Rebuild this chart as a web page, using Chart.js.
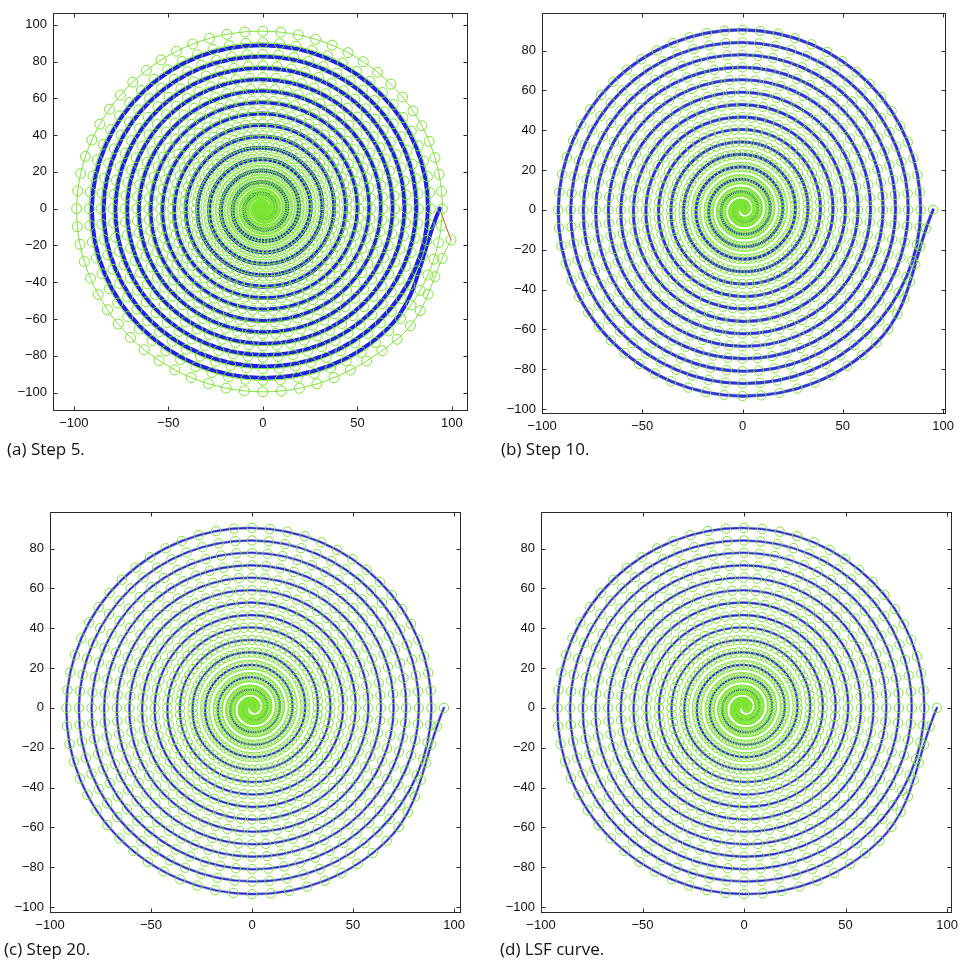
<!DOCTYPE html>
<html>
<head>
<meta charset="utf-8">
<script src="https://cdn.jsdelivr.net/npm/chart.js@4.4.1/dist/chart.umd.min.js"></script>
<style>
  html, body { margin: 0; padding: 0; background: #fff; overflow: hidden; }
  body { width: 960px; height: 966px; position: relative; }
  .panel { position: absolute; }
  .cap { position: absolute; font-family: "Open Sans", sans-serif; font-size: 17px; line-height: 17px; color: #111; white-space: nowrap; }
</style>
</head>
<body>
<div class="panel" id="pa"><canvas id="ca"></canvas></div>
<div class="panel" id="pb"><canvas id="cb"></canvas></div>
<div class="panel" id="pc"><canvas id="cc"></canvas></div>
<div class="panel" id="pd"><canvas id="cd"></canvas></div>
<div class="cap" style="left:7px;top:440px">(a) Step 5.</div>
<div class="cap" style="left:501px;top:440px">(b) Step 10.</div>
<div class="cap" style="left:4px;top:940px">(c) Step 20.</div>
<div class="cap" style="left:500px;top:940px">(d) LSF curve.</div>
<script>
// tick values
const xTickValues = [-100, -50, 0, 50, 100];
const yTicksA = [-100, -80, -60, -40, -20, 0, 20, 40, 60, 80, 100];
const yTicksBCD = [-100, -80, -60, -40, -20, 0, 20, 40, 60, 80];

// Spirals are stored as the crossings of each turn with the axes (E, N, W, S: signed
// coordinate on that axis) and with the diagonals (NE, NW, SW, SE: |x| = |y| there).

// fitted spiral of steps 10, 20 and the final LSF curve
const lsfE  = [1.3, 7.5, 13.8, 20.1, 26.3, 32.6, 38.8, 45.1, 51.3, 57.6, 63.8, 70.1, 76.3, 82.6, 88.8];
const lsfNE = [1.5, 5.9, 10.3, 14.7, 19.1, 23.6, 28.0, 32.4, 36.8, 41.2, 45.7, 50.1, 54.5, 58.9, 63.3];
const lsfN  = [2.9, 9.1, 15.4, 21.6, 27.9, 34.1, 40.4, 46.6, 52.9, 59.1, 65.4, 71.6, 77.9, 84.1, 90.4];
const lsfNW = [2.6, 7.0, 11.4, 15.8, 20.3, 24.7, 29.1, 33.5, 37.9, 42.3, 46.8, 51.2, 55.6, 60.0, 64.4];
const lsfW  = [-4.4, -10.7, -16.9, -23.2, -29.4, -35.7, -41.9, -48.2, -54.4, -60.7, -66.9, -73.2, -79.4, -85.7, -91.9];
const lsfSW = [3.7, 8.1, 12.5, 16.9, 21.4, 25.8, 30.2, 34.6, 39.0, 43.5, 47.9, 52.3, 56.7, 61.1, 65.6];
const lsfS  = [-6.0, -12.2, -18.5, -24.7, -31.0, -37.2, -43.5, -49.7, -56.0, -62.2, -68.5, -74.7, -81.0, -87.2, -93.5];
const lsfSE = [4.8, 9.2, 13.6, 18.0, 22.5, 26.9, 31.3, 35.7, 40.1, 44.6, 49.0, 53.4, 57.8, 62.2, 66.7];
const lsfEnd = [95, 0];

// step 5: curve being fitted
const s5E  = [0.5, 6.7, 12.9, 19.1, 25.3, 31.5, 37.7, 43.9, 50.1, 56.3, 62.5, 68.7, 74.9, 81.1, 87.3];
const s5NE = [0.9, 5.3, 9.7, 14.1, 18.4, 22.8, 27.2, 31.6, 36.0, 40.4, 44.7, 49.1, 53.5, 57.9, 62.3];
const s5N  = [2.1, 8.3, 14.5, 20.7, 26.9, 33.1, 39.3, 45.5, 51.7, 57.9, 64.1, 70.3, 76.5, 82.7, 88.9];
const s5NW = [2.0, 6.4, 10.8, 15.1, 19.5, 23.9, 28.3, 32.7, 37.1, 41.5, 45.8, 50.2, 54.6, 59.0, 63.4];
const s5W  = [-3.6, -9.8, -16.0, -22.2, -28.4, -34.6, -40.8, -47.0, -53.2, -59.4, -65.6, -71.8, -78.0, -84.2, -90.4];
const s5SW = [3.1, 7.5, 11.9, 16.2, 20.6, 25.0, 29.4, 33.8, 38.2, 42.6, 46.9, 51.3, 55.7, 60.1, 64.5];
const s5S  = [-5.2, -11.4, -17.6, -23.8, -30.0, -36.2, -42.4, -48.6, -54.8, -61.0, -67.2, -73.4, -79.6, -85.8, -92.0];
const s5SE = [4.2, 8.6, 13.0, 17.3, 21.7, 26.1, 30.5, 34.9, 39.3, 43.6, 48.0, 52.4, 56.8, 61.2, 65.6];
const s5End = [93.5, 0];

// step 5: sample points (green)
const ptE  = [0.4, 6.7, 13.0, 19.3, 25.6, 31.9, 38.2, 44.5, 50.8, 57.1, 63.4, 69.7, 76.0, 82.3, 88.6, 94.9];
const ptNE = [0.8, 5.3, 9.8, 14.2, 18.7, 23.1, 27.6, 32.0, 36.5, 40.9, 45.4, 49.8, 54.3, 58.8, 63.2, 67.7];
const ptN  = [2.0, 8.3, 14.6, 20.9, 27.2, 33.5, 39.8, 46.1, 52.4, 58.7, 65.0, 71.3, 77.6, 83.9, 90.2, 96.5];
const ptNW = [2.0, 6.4, 10.9, 15.3, 19.8, 24.2, 28.7, 33.1, 37.6, 42.0, 46.5, 51.0, 55.4, 59.9, 64.3, 68.8];
const ptW  = [-3.6, -9.9, -16.2, -22.5, -28.8, -35.1, -41.4, -47.7, -54.0, -60.3, -66.6, -72.9, -79.2, -85.5, -91.8, -98.5];
const ptSW = [3.1, 7.5, 12.0, 16.4, 20.9, 25.3, 29.8, 34.3, 38.7, 43.2, 47.6, 52.1, 56.5, 61.0, 65.4, 70.0];
const ptS  = [-5.1, -11.4, -17.7, -24.0, -30.3, -36.6, -42.9, -49.2, -55.5, -61.8, -68.1, -74.4, -80.7, -87.0, -93.3, -99.6];
const ptSE = [4.2, 8.6, 13.1, 17.5, 22.0, 26.5, 30.9, 35.4, 39.8, 44.3, 48.7, 53.2, 57.6, 62.1, 66.5, 71.0];
const ptEnd = [99.5, -17];

// step 5: link from curve end to last sample
const linkX = [93.5, 96.5, 99.5];
const linkY = [0, -8.5, -17];

const GREEN = 'rgb(125,230,50)';

function spiral(E, NE, N, NW, W, SW, S, SE, end) {
  const pts = [];
  for (let i = 0; i < E.length; i++) {
    pts.push({x: E[i], y: 0}, {x: NE[i], y: NE[i]}, {x: 0, y: N[i]}, {x: -NW[i], y: NW[i]},
             {x: W[i], y: 0}, {x: -SW[i], y: -SW[i]}, {x: 0, y: S[i]}, {x: SE[i], y: -SE[i]});
  }
  pts.push({x: end[0], y: end[1]});
  return pts;
}

// hollow circles spaced along the drawn spline of one dataset
const ringMarkers = {
  id: 'ringMarkers',
  afterDatasetsDraw(chart, args, opts) {
    const pts = chart.getDatasetMeta(opts.dataset).data;
    const ctx = chart.ctx;
    const cx = chart.scales.x.getPixelForValue(0), cy = chart.scales.y.getPixelForValue(0);
    const r = opts.radius;
    ctx.save();
    ctx.strokeStyle = opts.color;
    ctx.lineWidth = opts.width;
    ctx.beginPath();
    const ring = (x, y) => { ctx.moveTo(x + r, y); ctx.arc(x, y, r, 0, Math.PI * 2); };
    for (let i = 0; i < pts.length - 1; i++) {
      const p0 = pts[i], p1 = pts[i + 1];
      let turn = Math.atan2(p1.y - cy, p1.x - cx) - Math.atan2(p0.y - cy, p0.x - cx);
      turn = Math.abs(Math.atan2(Math.sin(turn), Math.cos(turn)));
      const n = Math.max(1, Math.round(opts.perQuarter * turn / (Math.PI / 2)));
      const c0x = p0.cp2x ?? p0.x, c0y = p0.cp2y ?? p0.y;
      const c1x = p1.cp1x ?? p1.x, c1y = p1.cp1y ?? p1.y;
      for (let k = 0; k < n; k++) {
        const t = k / n, u = 1 - t;
        const a = u * u * u, b = 3 * u * u * t, c = 3 * u * t * t, d = t * t * t;
        ring(a * p0.x + b * c0x + c * c1x + d * p1.x, a * p0.y + b * c0y + c * c1y + d * p1.y);
      }
    }
    const last = pts[pts.length - 1];
    ring(last.x, last.y);
    ctx.stroke();
    ctx.restore();
  }
};

// matlab style box with inward ticks on all four sides
const axesBox = {
  id: 'axesBox',
  afterDraw(chart) {
    const {ctx, chartArea: a, scales: {x, y}} = chart;
    const L = Math.round(a.left) + 0.5, R = Math.round(a.right) - 0.5;
    const T = Math.round(a.top) + 0.5, B = Math.round(a.bottom) - 0.5;
    ctx.save();
    ctx.strokeStyle = '#2a2a2a';
    ctx.lineWidth = 1;
    ctx.strokeRect(L, T, R - L, B - T);
    ctx.beginPath();
    x.ticks.forEach(t => {
      const px = Math.round(x.getPixelForValue(t.value)) + 0.5;
      ctx.moveTo(px, B); ctx.lineTo(px, B - 4);
      ctx.moveTo(px, T); ctx.lineTo(px, T + 4);
    });
    y.ticks.forEach(t => {
      const py = Math.round(y.getPixelForValue(t.value)) + 0.5;
      ctx.moveTo(L, py); ctx.lineTo(L + 4, py);
      ctx.moveTo(R, py); ctx.lineTo(R - 4, py);
    });
    ctx.stroke();
    ctx.restore();
  }
};

const fmt = v => (v < 0 ? '\u2212' + Math.abs(v) : String(v));

function axis(min, max, ticks, isX) {
  return {
    type: 'linear',
    min: min,
    max: max,
    afterBuildTicks: s => { s.ticks = ticks.map(v => ({value: v})); },
    afterFit: s => { if (isX) s.height = 30; else s.width = 50; },
    grid: {display: false, drawTicks: false},
    border: {display: false},
    ticks: {
      autoSkip: false, maxRotation: 0, padding: isX ? 5 : 6,
      color: '#111',
      font: {family: '"Liberation Sans", Arial, sans-serif', size: 13},
      callback: fmt
    }
  };
}

function panel(id, box, xr, yr, yTicks, datasets, markers) {
  const wrap = document.getElementById('p' + id);
  wrap.style.left = (box[0] - 50) + 'px';
  wrap.style.top = (box[1] - 6) + 'px';
  wrap.style.width = (box[2] - box[0] + 56) + 'px';
  wrap.style.height = (box[3] - box[1] + 36) + 'px';
  new Chart(document.getElementById('c' + id), {
    type: 'line',
    data: {datasets: datasets},
    options: {
      responsive: true,
      maintainAspectRatio: false,
      animation: false,
      events: [],
      layout: {padding: {top: 6, right: 6, left: 0, bottom: 0}},
      elements: {point: {radius: 0}, line: {borderCapStyle: 'round', borderJoinStyle: 'round', tension: 0.375}},
      scales: {x: axis(xr[0], xr[1], xTickValues, true), y: axis(yr[0], yr[1], yTicks, false)},
      plugins: {legend: {display: false}, tooltip: {enabled: false}, ringMarkers: markers}
    },
    plugins: [ringMarkers, axesBox]
  });
}

const lsf = spiral(lsfE, lsfNE, lsfN, lsfNW, lsfW, lsfSW, lsfS, lsfSE, lsfEnd);

function lsfSets(coreWidth, haloWidth, core) {
  return [
    {data: lsf, borderColor: 'rgba(70,70,215,0.5)', borderWidth: haloWidth, fill: false},
    {data: lsf, borderColor: core, borderWidth: coreWidth, fill: false}
  ];
}
const lsfMarkers = {dataset: 1, radius: 4.7, perQuarter: 16, color: GREEN, width: 1};

panel('a', [53, 5, 468, 411], [-111, 108.5], [-110, 106.5], yTicksA, [
  {data: spiral(ptE, ptNE, ptN, ptNW, ptW, ptSW, ptS, ptSE, ptEnd), borderColor: GREEN, borderWidth: 1, fill: false},
  {data: spiral(s5E, s5NE, s5N, s5NW, s5W, s5SW, s5S, s5SE, s5End), borderColor: '#1f1fe8', borderWidth: 4, fill: false},
  {data: linkX.map((x, i) => ({x: x, y: linkY[i]})), borderColor: '#e03030', borderWidth: 1, tension: 0.4, fill: false}
], {dataset: 0, radius: 5, perQuarter: 16, color: GREEN, width: 1});

panel('b', [542, 5, 953, 414], [-100, 101.5], [-102.5, 99], yTicksBCD, lsfSets(2.6, 3.6, '#1c1cd8'), lsfMarkers);
panel('c', [50, 504, 464, 913], [-100, 103.5], [-103, 98.5], yTicksBCD, lsfSets(1.6, 3, '#1010b4'), lsfMarkers);
panel('d', [541, 504, 957, 913], [-100, 102.4], [-103, 98.5], yTicksBCD, lsfSets(1.6, 3, '#1010b4'), lsfMarkers);
</script>
</body>
</html>
